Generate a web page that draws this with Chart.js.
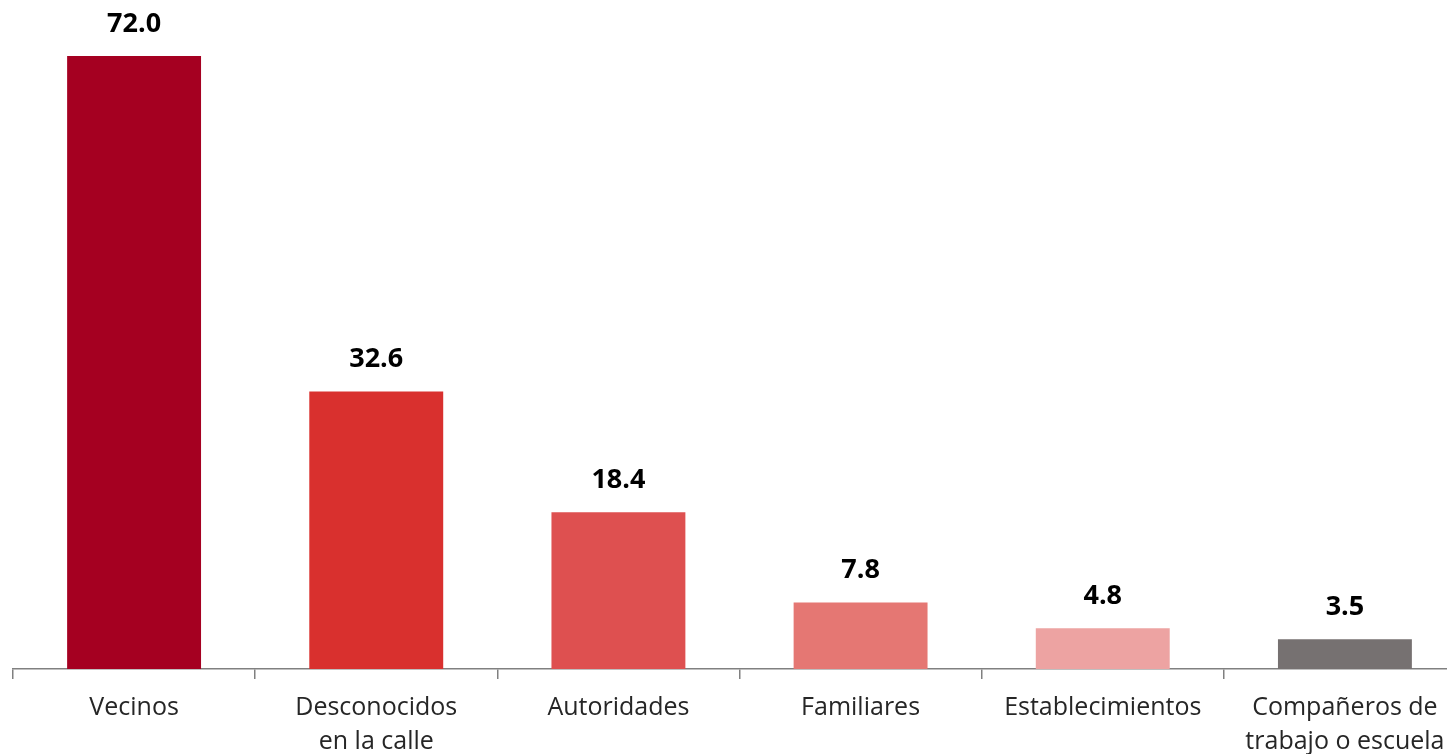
<!DOCTYPE html>
<html>
<head>
<meta charset="utf-8">
<script src="https://cdn.jsdelivr.net/npm/chart.js@4.4.1/dist/chart.umd.min.js"></script>
<style>
html,body{margin:0;padding:0;overflow:hidden;background:#fff;}
#wrap{position:absolute;left:0;top:0;width:1480px;height:771px;}
</style>
</head>
<body>
<div id="wrap"><canvas id="c"></canvas></div>
<script>
const categories = [["Vecinos"], ["Desconocidos","en la calle"], ["Autoridades"], ["Familiares"], ["Establecimientos"], ["Compañeros de","trabajo o escuela"]];
const values = [72.0, 32.6, 18.4, 7.8, 4.8, 3.5];
const barColors = ["#A50021", "#D9302E", "#DE5050", "#E57773", "#EDA3A2", "#767171"];

const valueLabels = {
  id: 'valueLabels',
  afterDatasetsDraw(chart) {
    const ctx = chart.ctx;
    const meta = chart.getDatasetMeta(0);
    ctx.save();
    ctx.font = 'bold 27px "Open Sans", "Liberation Sans", sans-serif';
    ctx.fillStyle = '#000';
    ctx.textAlign = 'center';
    ctx.textBaseline = 'middle';
    meta.data.forEach((bar, i) => {
      ctx.fillText(values[i].toFixed(1), bar.x, bar.y - 32);
    });
    ctx.restore();
  }
};

new Chart(document.getElementById('c'), {
  type: 'bar',
  data: {
    labels: categories,
    datasets: [{
      data: values,
      backgroundColor: barColors,
      borderWidth: 0,
      barPercentage: 0.553,
      categoryPercentage: 1.0
    }]
  },
  options: {
    responsive: true,
    maintainAspectRatio: false,
    animation: false,
    layout: { padding: { top: 56, left: 13, right: 14, bottom: 0 } },
    plugins: { legend: { display: false }, tooltip: { enabled: false } },
    scales: {
      x: {
        border: { display: true, color: '#808080', width: 1.5 },
        grid: { display: true, drawOnChartArea: false, drawTicks: true, tickLength: 10, color: '#808080', lineWidth: 1.5, offset: true },
        ticks: {
          color: '#262626',
          font: { family: '"Open Sans", "Liberation Sans", sans-serif', size: 25, lineHeight: 1.36 },
          padding: 12,
          maxRotation: 0,
          autoSkip: false
        }
      },
      y: {
        display: false,
        min: 0,
        max: 72
      }
    }
  },
  plugins: [valueLabels]
});
</script>
</body>
</html>
